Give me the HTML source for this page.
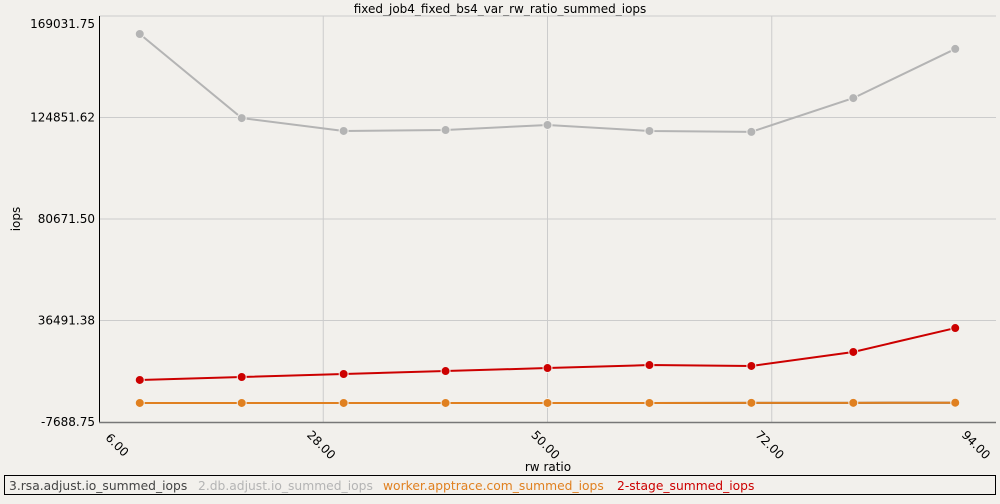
<!DOCTYPE html>
<html><head><meta charset="utf-8"><style>
body{margin:0;background:#f2f0ec;font-family:"DejaVu Sans","Liberation Sans",sans-serif;}
svg text{font-family:"DejaVu Sans","Liberation Sans",sans-serif;}
</style></head><body>
<svg id="c" width="1000" height="500">
<rect width="1000" height="500" fill="#f2f0ec"/>
</svg>
<script>
const xs=[10,20,30,40,50,60,70,80,90];
const xTicks=[6,28,50,72,94];
const yTicks=[-7688.75,36491.38,80671.50,124851.62,169031.75];
const rsaVals=[600,600,600,600,600,600,650,650,700];
const dbVals=[161200,124600,119000,119400,121600,119000,118600,133300,154700];
const workerVals=[600,600,600,600,600,600,650,650,700];
const stageVals=[10600,11900,13200,14500,15800,17100,16700,22800,33200];
const L=99,R=996,T=16,B=422;
const X=v=>L+(v-6)/(94-6)*(R-L);
const Y=v=>B-(v-(-7688.75))/(169031.75+7688.75)*(B-T);
const svg=document.getElementById('c');const NS='http://www.w3.org/2000/svg';
function el(t,a,p){const e=document.createElementNS(NS,t);for(const k in a)e.setAttribute(k,a[k]);(p||svg).appendChild(e);return e;}
let t=el('text',{x:500,y:13,'text-anchor':'middle','font-size':12,fill:'#000'});t.textContent='fixed_job4_fixed_bs4_var_rw_ratio_summed_iops';


yTicks.forEach(v=>{const y=Y(v);
 if(v>-7000){const g=el('line',{x1:L,x2:R,y1:y,y2:y,stroke:'#cccccc'});
 
 }
 const tx=el('text',{x:95,y:Math.max(y+4,28),'text-anchor':'end','font-size':12,fill:'#000'});tx.textContent=v.toFixed(2);
 
 
});
xTicks.forEach((v,i)=>{const x=X(v);
 if(v>6&&v<94){const g=el('line',{x1:x,x2:x,y1:T,y2:B,stroke:'#cccccc'});
 
 }
 const cx=i===0?x+18:(i===xTicks.length-1?x-20:x-2), cy=B+23;
 const tx=el('text',{x:cx,y:cy+4,'text-anchor':'middle','font-size':12,fill:'#000',transform:`rotate(45 ${cx} ${cy})`});tx.textContent=v.toFixed(2);
 
 
});
let a=el('line',{x1:L+0.5,x2:L+0.5,y1:T,y2:B,stroke:'#000'});


a=el('line',{x1:L,x2:R,y1:B+0.5,y2:B+0.5,stroke:'#777',"stroke-width":1.5});


t=el('text',{x:20,y:219,'text-anchor':'middle','font-size':12,transform:'rotate(-90 20 219)'});t.textContent='iops';


t=el('text',{x:548,y:471,'text-anchor':'middle','font-size':12});t.textContent='rw ratio';


function series(vals,color,name){
 const g=el('g',{});
 
 
 el('polyline',{points:xs.map((x,i)=>X(x)+','+Y(vals[i])).join(' '),fill:'none',stroke:color,'stroke-width':2},g);
 xs.forEach((x,i)=>{const c=el('circle',{cx:X(x),cy:Y(vals[i]),r:4.5,fill:color,stroke:'#f2f0ec','stroke-width':1},g);
 
 });
}
series(rsaVals,'#444','rsa-series');
series(dbVals,'#b4b4b4','db-series');
series(workerVals,'#e08020','worker-series');
series(stageVals,'#cc0000','stage-series');
const lg=el('g',{});


el('rect',{x:4.5,y:475.5,width:991,height:19,fill:'none',stroke:'#000'},lg);
const items=[['3.rsa.adjust.io_summed_iops','#444',9],['2.db.adjust.io_summed_iops','#b4b4b4',198],['worker.apptrace.com_summed_iops','#e08020',383],['2-stage_summed_iops','#cc0000',617]];
items.forEach(([n,c,x])=>{const e=el('text',{x:x,y:490,'font-size':12.3,fill:c},lg);e.textContent=n;
 
 });
</script>
</body></html>
